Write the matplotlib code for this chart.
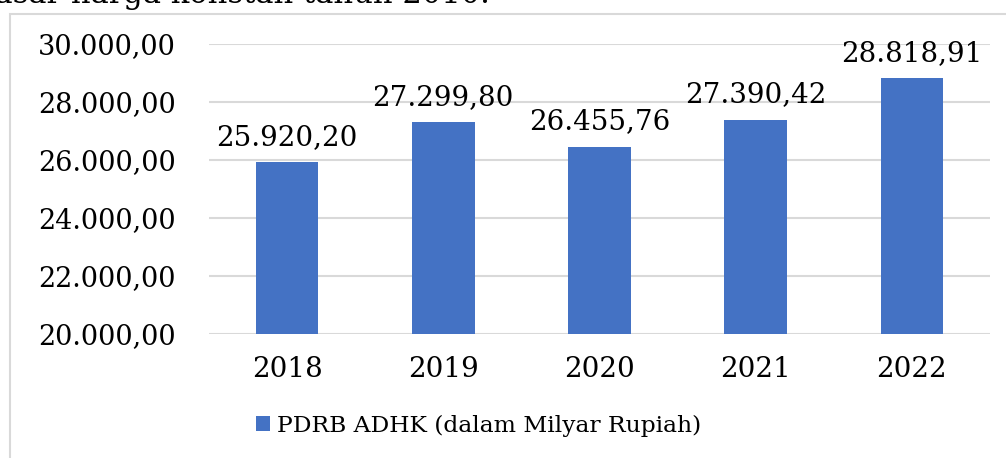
import matplotlib.pyplot as plt
import matplotlib.patches as patches
import numpy as np

years = ['2018', '2019', '2020', '2021', '2022']
pdrb = [25920.20, 27299.80, 26455.76, 27390.42, 28818.91]
yticks = [20000, 22000, 24000, 26000, 28000, 30000]


def fmt_id(v):
    # Indonesian number style: 27.299,80
    s = '{:,.2f}'.format(v)
    return s.replace(',', 'X').replace('.', ',').replace('X', '.')


def main():
    plt.rcParams['font.family'] = ['DejaVu Serif']
    fig = plt.figure(figsize=(10.06, 4.58), dpi=100)

    # outer chart frame
    frame = patches.Rectangle((10 / 1006, -0.1), 1.1, 1 - 14 / 458 + 0.1,
                              transform=fig.transFigure, fill=False,
                              edgecolor='#d9d9d9', linewidth=1.5)
    fig.patches.append(frame)

    # cut-off sentence above the chart
    fig.text(490 / 1006, 1 - 3 / 458, 'dasar harga konstan tahun 2010.',
             ha='right', va='baseline', fontsize=22, color='black')

    ax = fig.add_axes([209 / 1006, 1 - 334 / 458, 781 / 1006, 290 / 458])
    x = np.arange(len(years))
    ax.bar(x, pdrb, width=0.4, color='#4472C4', zorder=3,
           label='PDRB ADHK (dalam Milyar Rupiah)')

    for xi, v in zip(x, pdrb):
        ax.text(xi, v + 400, fmt_id(v), ha='center', va='bottom',
                fontsize=20, color='black')

    ax.set_ylim(20000, 30000)
    ax.set_xlim(-0.5, len(years) - 0.5)
    ax.set_yticks(yticks)
    ax.set_yticklabels([fmt_id(t) for t in yticks], fontsize=19.5)
    ax.set_xticks(x)
    ax.set_xticklabels(years, fontsize=20)
    ax.tick_params(length=0)
    ax.tick_params(axis='y', pad=24)
    ax.tick_params(axis='x', pad=16)
    ax.yaxis.grid(True, color='#d9d9d9', linewidth=1.5, zorder=0)
    for sp in ax.spines.values():
        sp.set_visible(False)

    ax.legend(loc='center', bbox_to_anchor=(479 / 1006, 1 - 426 / 458),
              bbox_transform=fig.transFigure, frameon=False, fontsize=16.8,
              handlelength=0.6, handleheight=0.6, handletextpad=0.3)

    fig.savefig('out.png', dpi=100)


if __name__ == "__main__":
    main()
